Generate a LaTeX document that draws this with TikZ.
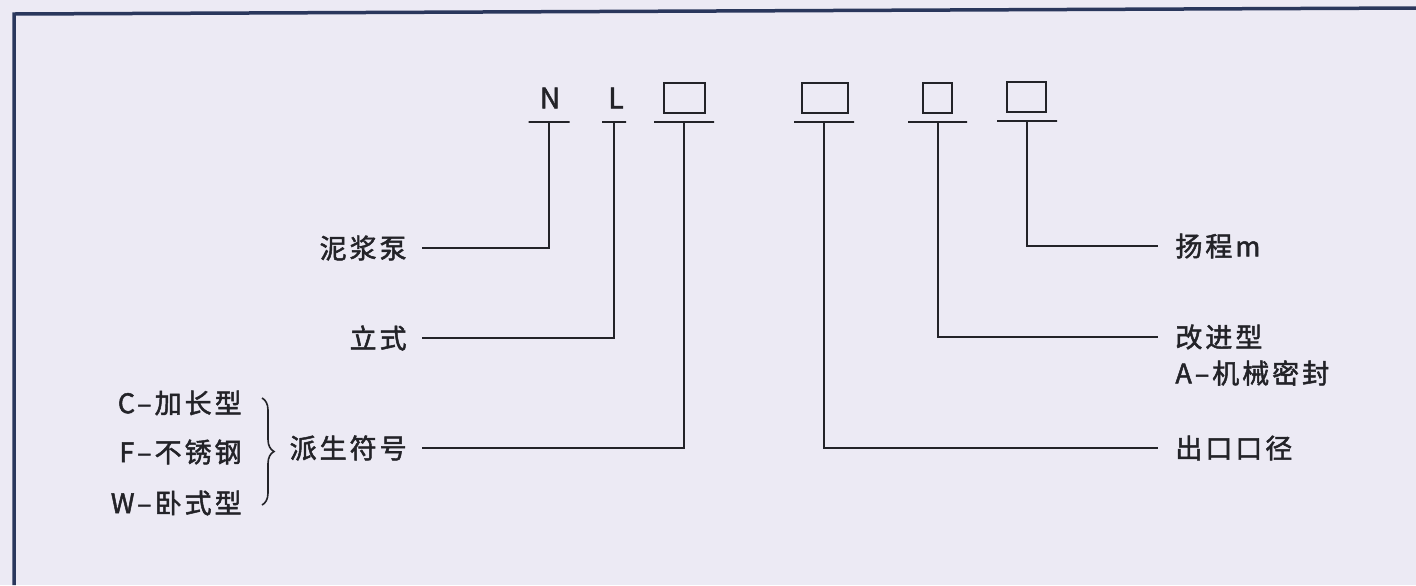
\documentclass[tikz,border=0pt]{standalone}
\usepackage{fontspec}
\newfontfamily\cjk[LetterSpace=11,FakeBold=1.8]{Noto Sans CJK SC}
\newfontfamily\cjkcode[FakeBold=1.8]{Noto Sans CJK SC}
\usetikzlibrary{decorations.pathreplacing}
\definecolor{bgpaper}{RGB}{236,234,244}
\definecolor{framec}{RGB}{42,55,92}
\definecolor{inkc}{RGB}{35,35,40}

\begin{document}
\begin{tikzpicture}[x=0.5pt, y=-0.5pt,
        lbl/.style={font=\cjk\fontsize{13.5}{16}\selectfont, text=inkc, inner ysep=0pt, inner xsep=7.5pt},
        opt/.style={lbl, inner xsep=0pt},
        code/.style={font=\cjkcode\fontsize{14}{16}\selectfont, text=inkc},
        cbox/.style={draw=inkc, line width=1pt, inner sep=0pt, minimum height=15pt},
        cbar/.style={draw=inkc, line width=1pt, inner sep=0pt, minimum height=0pt},
        wire/.style={draw=inkc, line width=1pt}
    ]
    \useasboundingbox (0,0) rectangle (1416,585);
    \fill[bgpaper] (0,0) rectangle (1416,585);
    \draw[framec, line width=1.75pt] (1416,8) -- (14,14) -- (14,585);

    % --- model code ---
    \node[code] (Nt) at (550,98) {N};
    \node[code] (Lt) at (616,98) {L};
    \node[cbox, minimum width=20.5pt] (B1) at (684.5,98) {};
    \node[cbox, minimum width=23pt] (B2) at (825,97.5) {};
    \node[cbox, minimum width=14.5pt] (B3) at (937.5,97.5) {};
    \node[cbox, minimum width=19.5pt] (B4) at (1026.5,97) {};

    % bars under the code
    \node[cbar, minimum width=20.5pt] (Nb) at (549,122) {};
    \node[cbar, minimum width=12pt] (Lb) at (614,122) {};
    \node[cbar, minimum width=30pt] (B1b) at (684,122) {};
    \node[cbar, minimum width=30pt] (B2b) at (824,122) {};
    \node[cbar, minimum width=29.5pt] (B3b) at (937.5,121.5) {};
    \node[cbar, minimum width=30pt] (B4b) at (1027,121) {};

    % --- left side ---
    \node[lbl, anchor=east] (Pump) at (422,248) {泥浆泵};
    \node[lbl, anchor=east] (Vert) at (422,338) {立式};
    \node[lbl, anchor=east] (Deriv) at (422,448) {派生符号};
    \draw[wire] (Nb.center) |- (Pump.east);
    \draw[wire] (Lb.center) |- (Vert.east);
    \draw[wire] (B1b.center) |- (Deriv.east);

    \node[opt, anchor=east] (OpC) at (242,403) {C–加长型};
    \node[opt, anchor=east] (OpF) at (242,452) {F–不锈钢};
    \node[opt, anchor=east] (OpW) at (242,503) {W–卧式型};
    \draw[inkc, line width=0.8pt, decorate, decoration={brace, amplitude=6pt}] (262,398) -- (262,505);

    % --- right side ---
    \node[lbl, anchor=west, inner xsep=8.5pt] (Head) at (1158,246) {扬程m};
    \node[lbl, anchor=west, inner xsep=8.5pt] (Imp) at (1158,337) {改进型};
    \node[lbl, anchor=west, inner xsep=8.5pt] (Seal) at (1158,373) {A–机械密封};
    \node[lbl, anchor=west, inner xsep=8.5pt] (Outlet) at (1158,448) {出口口径};
    \draw[wire] (B4b.center) |- (Head.west);
    \draw[wire] (B3b.center) |- (Imp.west);
    \draw[wire] (B2b.center) |- (Outlet.west);
\end{tikzpicture}
\end{document}
